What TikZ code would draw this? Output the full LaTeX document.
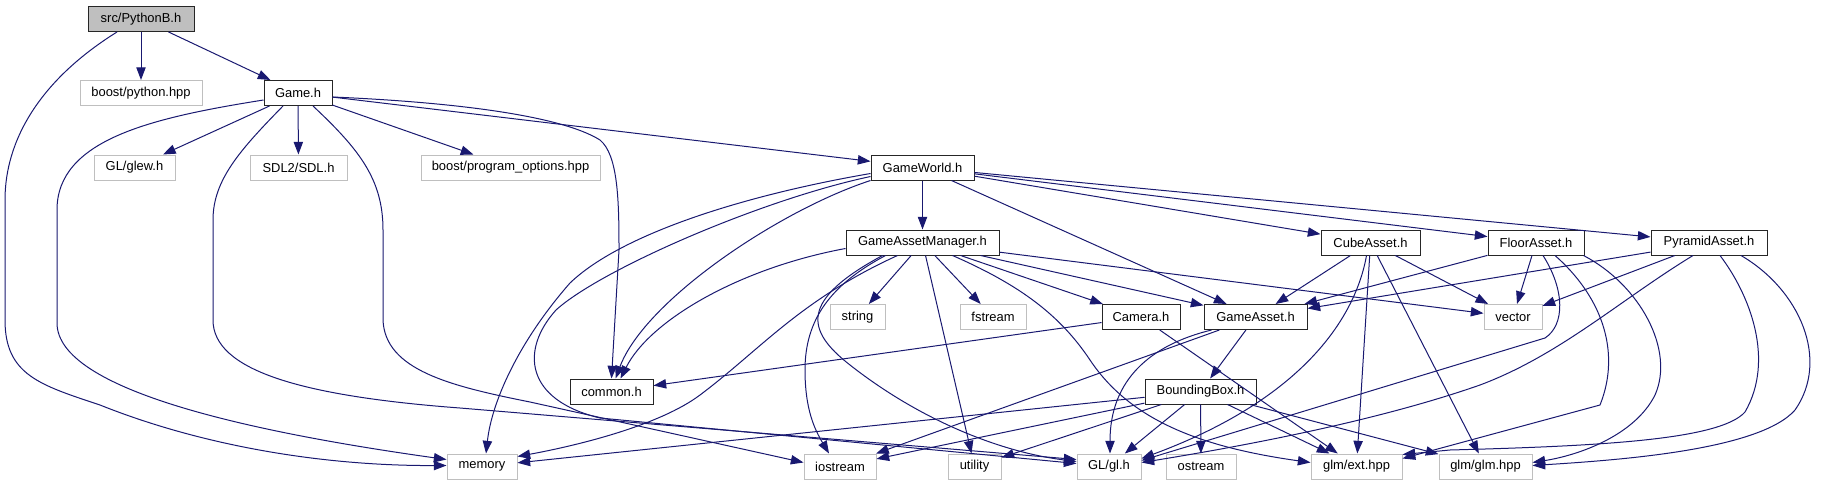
\documentclass[tikz,border=0pt]{standalone}
\usepackage{fontspec}
\setmainfont{Liberation Sans}
\usepackage{xcolor}
\usepackage{tikz}
\usetikzlibrary{arrows.meta, calc}

\definecolor{midnight}{HTML}{191970}
\definecolor{greyline}{HTML}{BFBFBF}

\begin{document}
\begin{tikzpicture}[
  x=0.75pt, y=-0.75pt,
  boxw/.style={minimum width=#1*0.75pt},
  filenode/.style={rectangle, draw=black!85, line width=0.75pt, fill=white,
                   minimum height=25*0.75pt, inner sep=0pt,
                   font=\fontsize{9.7}{11}\selectfont},
  sysnode/.style={filenode, draw=greyline},
  rootnode/.style={filenode, fill=greyline},
  dep/.style={draw=midnight, line width=0.75pt,
              -{Triangle[length=9.5pt, width=7pt]}}
]
\useasboundingbox (0,0) rectangle (1826,485);

% ── Headers, row by row ──
\node[rootnode, boxw=106] (python) at (141,19) {src/PythonB.h};

\node[sysnode, boxw=122] (boostpy) at (141,93) {boost/python.hpp};
\node[filenode, boxw=68] (game) at (298,93) {Game.h};

\node[sysnode, boxw=81] (glew) at (134.5,167.5) {GL/glew.h};
\node[sysnode, boxw=97] (sdl) at (298.5,167.5) {SDL2/SDL.h};
\node[sysnode, boxw=179] (progopt) at (510.5,167.5) {boost/program\_options.hpp};
\node[filenode, boxw=103] (world) at (922.5,167.5) {GameWorld.h};

\node[filenode, boxw=153] (manager) at (922.5,242.5) {GameAssetManager.h};
\node[filenode, boxw=99] (cube) at (1370.5,242.5) {CubeAsset.h};
\node[filenode, boxw=96] (floor) at (1536,242.5) {FloorAsset.h};
\node[filenode, boxw=116] (pyramid) at (1709,242.5) {PyramidAsset.h};

\node[sysnode, boxw=55] (string) at (857.5,317) {string};
\node[sysnode, boxw=66] (fstream) at (993,317) {fstream};
\node[filenode, boxw=78] (camera) at (1141,317) {Camera.h};
\node[filenode, boxw=103] (asset) at (1255.5,317) {GameAsset.h};
\node[sysnode, boxw=58] (vector) at (1513,317) {vector};

\node[filenode, boxw=83] (common) at (611.5,391.5) {common.h};
\node[filenode, boxw=111] (bbox) at (1200.5,391.5) {BoundingBox.h};

\node[sysnode, boxw=70] (memory) at (482,466.5) {memory};
\node[sysnode, boxw=72] (iostream) at (840,466.5) {iostream};
\node[sysnode, boxw=53] (utility) at (974.5,466.5) {utility};
\node[sysnode, boxw=64] (gl) at (1109,466.5) {GL/gl.h};
\node[sysnode, boxw=70] (ostream) at (1201,466.5) {ostream};
\node[sysnode, boxw=91] (ext) at (1356.5,466.5) {glm/ext.hpp};
\node[sysnode, boxw=93] (glmh) at (1485.5,466.5) {glm/glm.hpp};

% ── src/PythonB.h ──
\draw[dep] (python) -- (boostpy);
\draw[dep] (python) -- (game);
\draw[dep] ($(python.south)+(-24,0)$) .. controls (40,80) and (5,140) .. (5,200)
  -- (5,320) .. controls (5,375) and (40,385) .. (100,405)
  .. controls (200,445) and (320,466) .. ($(memory.west)+(0,-1)$);

% ── Game.h ──
\draw[dep] (game) -- (glew);
\draw[dep] (game) -- (sdl);
\draw[dep] (game) -- (progopt);
\draw[dep] (game) -- (world);
\draw[dep] ($(game.west)+(0,7)$) .. controls (150,118) and (57,140) .. (57,210)
  -- (57,323) .. controls (57,390) and (250,432) .. ($(memory.west)+(0,-7)$);
\draw[dep] ($(game.south)+(-15,0)$) .. controls (240,150) and (213,180) .. (213,220)
  -- (213,320) .. controls (213,370) and (300,396) .. (460,408)
  -- ($(gl.west)+(0,-7)$);
\draw[dep] ($(game.south)+(15,0)$) .. controls (360,150) and (383,180) .. (383,230)
  -- (383,320) .. controls (385,370) and (450,386) .. (530,402)
  -- ($(iostream.west)+(0,-4)$);
\draw[dep] ($(game.east)+(0,4)$) .. controls (450,102) and (560,115) .. (600,140)
  .. controls (618,155) and (619,200) .. (619,250) -- (common.north);

% ── GameWorld.h ──
\draw[dep] (world) -- (manager);
\draw[dep] (world) -- (asset);
\draw[dep] (world) -- (cube);
\draw[dep] (world) -- (floor);
\draw[dep] (world) -- (pyramid);
\draw[dep] ($(world.west)+(0,6)$) .. controls (740,196) and (620,235) .. (570,283)
  .. controls (520,340) and (492,400) .. ($(memory.north)+(4,0)$);
\draw[dep] ($(world.west)+(0,9)$) .. controls (760,200) and (600,270) .. (556,310)
  .. controls (520,350) and (525,400) .. (600,418) -- ($(gl.west)+(0,-3)$);
\draw[dep] (world.south west) .. controls (780,210) and (645,300) .. ($(common.north)+(4,0)$);

% ── GameAssetManager.h ──
\draw[dep] (manager) -- (string);
\draw[dep] (manager) -- (fstream);
\draw[dep] (manager) -- (camera);
\draw[dep] (manager) -- (asset);
\draw[dep] (manager) -- (utility);
\draw[dep] (manager) -- (vector);
\draw[dep] ($(manager.west)+(0,6)$) .. controls (740,268) and (650,320) .. ($(common.north)+(9,0)$);
\draw[dep] ($(manager.south)+(-25,0)$) .. controls (800,300) and (760,350) .. (700,395)
  .. controls (660,425) and (580,445) .. ($(memory.east)+(0,-10)$);
\draw[dep] ($(manager.south)+(-37,0)$) .. controls (830,285) and (805,320) .. (805,370)
  .. controls (805,410) and (815,430) .. ($(iostream.north)+(-11,0)$);
\draw[dep] ($(manager.south)+(-40,0)$) .. controls (800,300) and (805,330) .. (850,365)
  .. controls (920,420) and (1000,452) .. ($(gl.west)+(0,-5)$);
\draw[dep] ($(manager.south)+(30,0)$) .. controls (1020,285) and (1060,315) .. (1090,360)
  .. controls (1130,420) and (1200,447) .. ($(ext.west)+(0,-4)$);

% ── Camera.h, GameAsset.h, BoundingBox.h ──
\draw[dep] (camera) -- (common);
\draw[dep] (camera) -- (ext);
\draw[dep] (asset) -- (bbox);
\draw[dep] (asset) -- (iostream);
\draw[dep] ($(asset.south)+(-44,0)$) .. controls (1150,345) and (1110,380) .. ($(gl.north)+(1,0)$);
\draw[dep] (bbox) -- (memory);
\draw[dep] (bbox) -- (iostream);
\draw[dep] (bbox) -- (utility);
\draw[dep] (bbox) -- (gl);
\draw[dep] (bbox) -- (ostream);
\draw[dep] (bbox) -- (ext);
\draw[dep] (bbox) -- (glmh);

% ── CubeAsset.h ──
\draw[dep] (cube) -- (asset);
\draw[dep] (cube) -- (vector);
\draw[dep] (cube) -- (ext);
\draw[dep] (cube) -- (glmh);
\draw[dep] ($(cube.south)+(-4,0)$) .. controls (1355,320) and (1300,400) .. ($(gl.east)+(0,-8)$);

% ── FloorAsset.h ──
\draw[dep] (floor) -- (asset);
\draw[dep] (floor) -- (vector);
\draw[dep] ($(floor.south)+(7,0)$) .. controls (1565,290) and (1565,325) .. (1545,338)
  -- ($(gl.east)+(0,-6)$);
\draw[dep] ($(floor.south)+(19,0)$) .. controls (1600,295) and (1622,350) .. (1600,405)
  -- ($(ext.east)+(0,-8)$);
\draw[dep] ($(floor.south east)+(-1,0)$) .. controls (1640,285) and (1675,350) .. (1655,395)
  .. controls (1635,435) and (1580,455) .. ($(glmh.east)+(0,-4)$);

% ── PyramidAsset.h ──
\draw[dep] (pyramid) -- (asset);
\draw[dep] (pyramid) -- (vector);
\draw[dep] ($(pyramid.south)+(-16,0)$) .. controls (1620,300) and (1560,355) .. (1480,385)
  .. controls (1380,420) and (1250,445) .. ($(gl.east)+(0,-4)$);
\draw[dep] ($(pyramid.south)+(11,0)$) .. controls (1750,295) and (1775,360) .. (1745,412)
  .. controls (1720,440) and (1600,446) .. (1450,450) -- ($(ext.east)+(0,-12)$);
\draw[dep] ($(pyramid.south)+(32,0)$) .. controls (1800,290) and (1830,360) .. (1795,410)
  .. controls (1760,450) and (1620,460) .. ($(glmh.east)+(0,-1)$);

\end{tikzpicture}
\end{document}
